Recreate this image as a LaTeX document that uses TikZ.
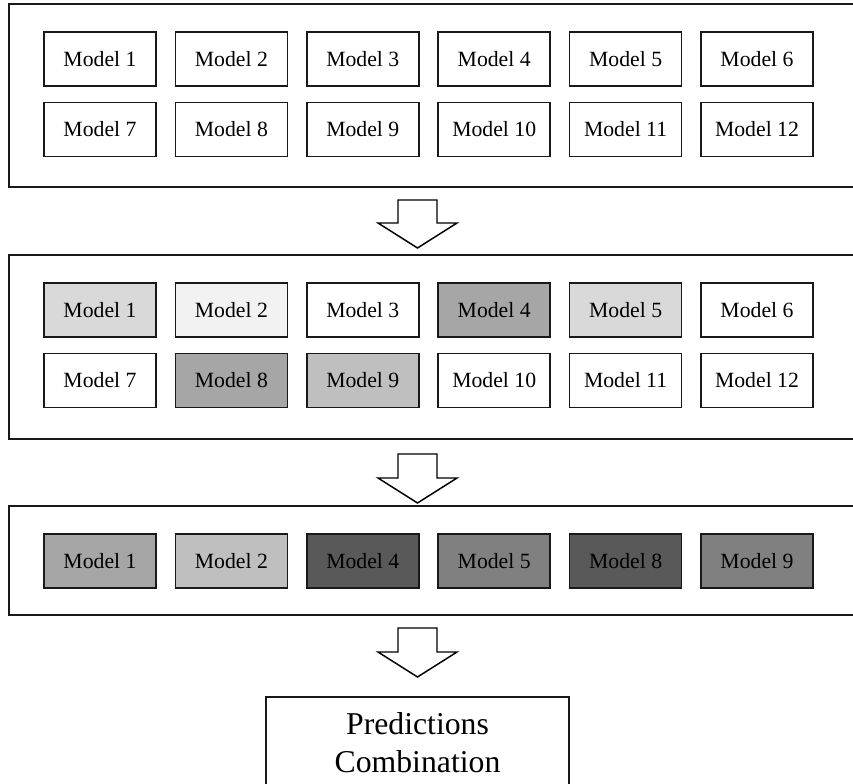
\documentclass[tikz,border=0pt]{standalone}
\usepackage{fontspec}
\setmainfont{Liberation Serif}
\begin{document}
\begin{tikzpicture}[x=0.75pt,y=-0.75pt,
  panel/.style={draw=black!90,line width=1.2pt,rectangle,inner sep=0pt},
  mbox/.style={draw=black!90,line width=1.1pt,rectangle,inner sep=0pt,minimum width=84pt,minimum height=40.5pt,font=\fontsize{16.3}{19}\selectfont},
  barrow/.style={draw=black,line width=1.1pt,fill=white,line join=miter}]
\useasboundingbox (0,0) rectangle (853,784);
% panels (right edge lies just beyond the picture)
\node[panel,minimum width=636pt,minimum height=137.25pt] (p1) at (433,95.5) {};
\node[panel,minimum width=636pt,minimum height=138pt] (p2) at (433,347) {};
\node[panel,minimum width=636pt,minimum height=81.75pt] (p3) at (433,560.5) {};
% panel 1
\foreach \i/\x in {1/100,2/231.4,3/362.8,4/494.2,5/625.6,6/757}{
  \node[mbox] (a\i) at (\x,59) {Model \i};}
\foreach \i/\x in {7/100,8/231.4,9/362.8,10/494.2,11/625.6,12/757}{
  \node[mbox] (a\i) at (\x,129.5) {Model \i};}
% panel 2
\foreach \i/\x/\c in {1/100/D9D9D9,2/231.4/F2F2F2,3/362.8/FFFFFF,4/494.2/A6A6A6,5/625.6/D9D9D9,6/757/FFFFFF}{
  \definecolor{tmpc}{HTML}{\c}
  \node[mbox,fill=tmpc] (b\i) at (\x,310) {Model \i};}
\foreach \i/\x/\c in {7/100/FFFFFF,8/231.4/A6A6A6,9/362.8/BFBFBF,10/494.2/FFFFFF,11/625.6/FFFFFF,12/757/FFFFFF}{
  \definecolor{tmpc}{HTML}{\c}
  \node[mbox,fill=tmpc] (b\i) at (\x,380.5) {Model \i};}
% panel 3
\foreach \i/\x/\c in {1/100/A6A6A6,2/231.4/BFBFBF,4/362.8/595959,5/494.2/808080,8/625.6/595959,9/757/808080}{
  \definecolor{tmpc}{HTML}{\c}
  \node[mbox,fill=tmpc] (c\i) at (\x,561) {Model \i};}
% result
\node[draw=black!90,line width=1.1pt,rectangle,inner sep=0pt,minimum width=227pt,minimum height=68pt,align=center,
  font=\fontsize{23.8}{28.5}\selectfont] (pc) at (417.5,742.5) {Predictions\\Combination};
% block arrows
\foreach \t/\h/\e in {200/223/248,454/478/503,628/652/677}{
  \draw[barrow] (398,\t) -- (437,\t) -- (437,\h) -- (457,\h) -- (417.5,\e) -- (378,\h) -- (398,\h) -- cycle;}
\end{tikzpicture}
\end{document}
